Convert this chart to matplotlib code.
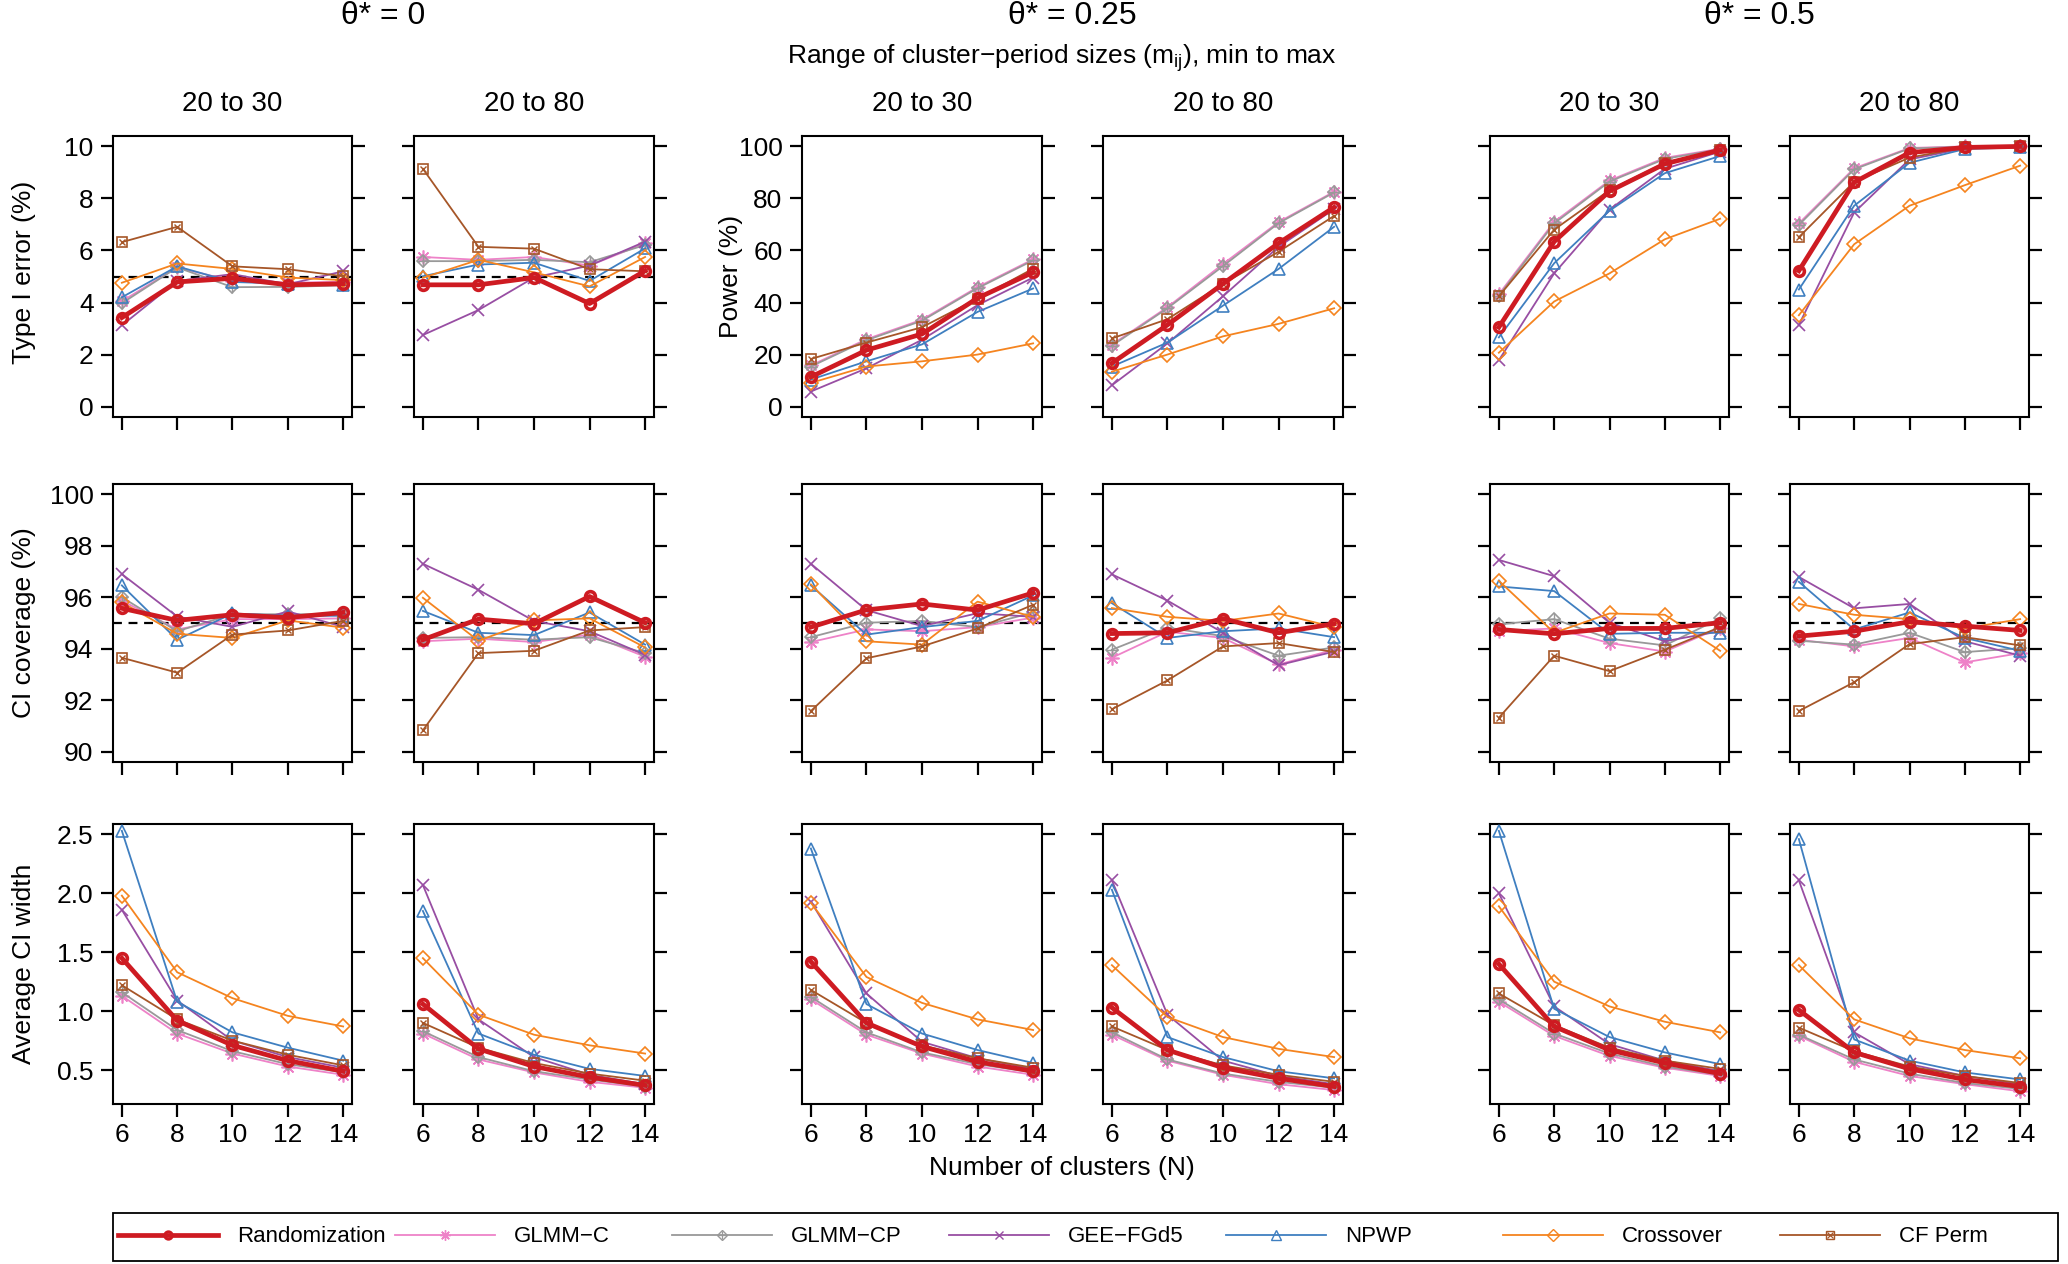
import matplotlib
matplotlib.use("Agg")
import matplotlib.pyplot as plt
from matplotlib.lines import Line2D
from matplotlib.patches import Rectangle
from matplotlib.legend_handler import HandlerTuple

plt.rcParams['font.family'] = ['Liberation Sans', 'DejaVu Sans']
plt.rcParams['mathtext.default'] = 'regular'

n_clusters = [6, 8, 10, 12, 14]
theta_titles = ["θ* = 0", "θ* = 0.25", "θ* = 0.5"]
size_ranges = ["20 to 30", "20 to 80", "20 to 30", "20 to 80", "20 to 30", "20 to 80"]
methods = ["Randomization", "GLMM−C", "GLMM−CP", "GEE−FGd5", "NPWP", "Crossover", "CF Perm"]

# Type I error (%), theta* = 0 : [20 to 30, 20 to 80]
err_rand = [[3.42, 4.79, 4.93, 4.68, 4.72], [4.68, 4.68, 4.96, 3.96, 5.22]]
err_glmmc = [[4.05, 5.35, 4.83, 4.76, 4.80], [5.75, 5.64, 5.75, 5.42, 6.28]]
err_glmmcp = [[3.97, 5.35, 4.59, 4.60, 4.66], [5.59, 5.59, 5.64, 5.55, 6.21]]
err_gee = [[3.12, 4.83, 5.09, 4.70, 5.20], [2.75, 3.71, 4.96, 5.42, 6.34]]
err_npwp = [[4.20, 5.39, 4.79, 4.72, 4.68], [5.01, 5.46, 5.53, 4.83, 6.08]]
err_cross = [[4.76, 5.50, 5.29, 4.96, 4.86], [4.95, 5.64, 5.16, 4.62, 5.75]]
err_cfperm = [[6.32, 6.91, 5.39, 5.28, 5.01], [9.14, 6.14, 6.07, 5.28, 5.20]]

# Power (%), theta* = 0.25 and 0.5 : [0.25/20-30, 0.25/20-80, 0.5/20-30, 0.5/20-80]
pow_rand = [[11.4, 21.7, 27.9, 41.7, 51.6], [16.7, 31.4, 47.2, 62.8, 76.6],
            [30.5, 63.4, 82.8, 93.3, 98.6], [52.2, 86.2, 97.6, 99.6, 100.0]]
pow_glmmc = [[15.8, 25.9, 33.4, 45.9, 56.6], [23.8, 38.2, 54.8, 70.9, 82.6],
             [43.2, 71.0, 86.9, 95.6, 99.1], [70.4, 91.6, 99.4, 100.0, 100.0]]
pow_glmmcp = [[15.4, 25.5, 33.0, 45.5, 56.2], [23.4, 37.8, 54.0, 70.5, 82.3],
              [42.6, 70.4, 86.5, 95.2, 98.9], [69.8, 91.2, 99.2, 99.9, 100.0]]
pow_gee = [[5.8, 14.7, 25.7, 39.0, 49.6], [8.2, 24.3, 42.4, 61.4, 75.9],
           [17.8, 51.2, 75.7, 91.4, 98.0], [31.4, 74.6, 95.0, 99.3, 99.9]]
pow_npwp = [[10.4, 17.4, 23.9, 36.4, 45.4], [15.4, 24.6, 38.8, 52.9, 69.1],
            [26.6, 55.1, 75.3, 89.7, 96.3], [45.0, 77.2, 93.7, 99.0, 99.6]]
pow_cross = [[9.1, 15.4, 17.4, 20.0, 24.3], [13.4, 20.0, 27.0, 31.8, 37.8],
             [20.7, 40.4, 51.2, 64.3, 72.2], [35.1, 62.4, 77.2, 85.1, 92.6]]
pow_cfperm = [[18.3, 24.6, 30.5, 41.5, 53.0], [26.2, 33.6, 47.2, 59.5, 73.3],
              [42.4, 68.0, 83.2, 93.7, 98.6], [65.1, 86.4, 95.7, 99.6, 100.0]]

# CI coverage (%), six panels left to right
cov_rand = [[95.57, 95.10, 95.32, 95.21, 95.41], [94.35, 95.15, 94.97, 96.03, 95.01],
            [94.84, 95.51, 95.74, 95.50, 96.17], [94.59, 94.62, 95.17, 94.62, 94.97],
            [94.75, 94.58, 94.79, 94.79, 95.01], [94.49, 94.68, 95.05, 94.88, 94.71]]
cov_glmmc = [[95.87, 94.75, 95.15, 95.15, 95.18], [94.29, 94.39, 94.26, 94.55, 93.69],
             [94.26, 94.75, 94.68, 94.84, 95.21], [93.65, 94.66, 94.42, 93.39, 93.96],
             [94.68, 94.79, 94.22, 93.89, 94.82], [94.35, 94.09, 94.42, 93.47, 93.83]]
cov_glmmcp = [[96.00, 94.68, 95.34, 95.34, 95.34], [94.42, 94.45, 94.35, 94.45, 93.83],
              [94.45, 95.01, 95.08, 94.84, 95.41], [93.96, 94.82, 94.49, 93.73, 94.05],
              [94.95, 95.15, 94.39, 94.13, 95.18], [94.31, 94.16, 94.62, 93.87, 94.02]]
cov_gee = [[96.90, 95.25, 94.85, 95.45, 94.85], [97.30, 96.29, 95.08, 94.68, 93.76],
           [97.30, 95.50, 94.88, 95.38, 95.24], [96.89, 95.87, 94.62, 93.36, 93.89],
           [97.45, 96.82, 95.01, 94.29, 94.68], [96.79, 95.57, 95.74, 94.29, 93.73]]
cov_npwp = [[96.46, 94.35, 95.37, 95.28, 95.28], [95.47, 94.62, 94.53, 95.41, 94.16],
            [96.46, 94.55, 94.84, 95.08, 96.07], [95.77, 94.42, 94.68, 94.79, 94.45],
            [96.42, 96.24, 94.58, 94.62, 94.62], [96.60, 94.75, 95.41, 94.42, 93.92]]
cov_cross = [[95.80, 94.58, 94.42, 95.10, 94.82], [95.98, 94.31, 95.10, 95.18, 94.05],
             [96.50, 94.29, 94.16, 95.83, 95.24], [95.58, 95.24, 95.08, 95.37, 94.84],
             [96.64, 94.62, 95.37, 95.32, 93.92], [95.74, 95.32, 95.15, 94.79, 95.15]]
cov_cfperm = [[93.65, 93.07, 94.55, 94.71, 95.08], [90.83, 93.83, 93.92, 94.71, 94.84],
              [91.58, 93.63, 94.09, 94.79, 95.71], [91.65, 92.77, 94.09, 94.22, 93.87],
              [91.32, 93.73, 93.13, 93.96, 94.84], [91.58, 92.70, 94.18, 94.45, 94.13]]

# Average CI width, six panels left to right
wid_rand = [[1.45, 0.92, 0.71, 0.58, 0.49], [1.06, 0.68, 0.53, 0.44, 0.37],
            [1.42, 0.90, 0.70, 0.57, 0.49], [1.03, 0.67, 0.52, 0.43, 0.36],
            [1.40, 0.87, 0.67, 0.56, 0.47], [1.01, 0.65, 0.51, 0.42, 0.36]]
wid_glmmc = [[1.13, 0.81, 0.64, 0.53, 0.46], [0.81, 0.59, 0.48, 0.40, 0.35],
             [1.10, 0.80, 0.64, 0.53, 0.46], [0.80, 0.58, 0.46, 0.38, 0.33],
             [1.08, 0.79, 0.62, 0.52, 0.45], [0.79, 0.57, 0.45, 0.38, 0.32]]
wid_glmmcp = [[1.16, 0.84, 0.66, 0.55, 0.48], [0.83, 0.61, 0.49, 0.42, 0.36],
              [1.12, 0.82, 0.65, 0.55, 0.48], [0.82, 0.59, 0.47, 0.40, 0.35],
              [1.10, 0.81, 0.64, 0.53, 0.46], [0.80, 0.59, 0.47, 0.39, 0.34]]
wid_gee = [[1.86, 1.09, 0.75, 0.61, 0.52], [2.07, 0.93, 0.61, 0.46, 0.38],
           [1.93, 1.15, 0.74, 0.60, 0.51], [2.11, 0.97, 0.58, 0.45, 0.38],
           [2.00, 1.04, 0.72, 0.58, 0.49], [2.11, 0.82, 0.55, 0.45, 0.38]]
wid_npwp = [[2.53, 1.08, 0.82, 0.69, 0.58], [1.85, 0.81, 0.63, 0.51, 0.45],
            [2.38, 1.06, 0.81, 0.67, 0.56], [2.03, 0.78, 0.61, 0.49, 0.43],
            [2.53, 1.02, 0.78, 0.65, 0.55], [2.46, 0.76, 0.58, 0.48, 0.42]]
wid_cross = [[1.98, 1.33, 1.11, 0.96, 0.87], [1.45, 0.97, 0.80, 0.71, 0.64],
             [1.92, 1.29, 1.07, 0.93, 0.84], [1.39, 0.95, 0.78, 0.68, 0.61],
             [1.89, 1.25, 1.04, 0.91, 0.82], [1.39, 0.93, 0.77, 0.67, 0.60]]
wid_cfperm = [[1.22, 0.93, 0.75, 0.63, 0.54], [0.90, 0.69, 0.56, 0.47, 0.41],
              [1.18, 0.90, 0.71, 0.60, 0.52], [0.87, 0.67, 0.54, 0.46, 0.40],
              [1.15, 0.88, 0.69, 0.58, 0.51], [0.86, 0.66, 0.53, 0.45, 0.39]]

err_all = [err_rand, err_glmmc, err_glmmcp, err_gee, err_npwp, err_cross, err_cfperm]
pow_all = [pow_rand, pow_glmmc, pow_glmmcp, pow_gee, pow_npwp, pow_cross, pow_cfperm]
cov_all = [cov_rand, cov_glmmc, cov_glmmcp, cov_gee, cov_npwp, cov_cross, cov_cfperm]
wid_all = [wid_rand, wid_glmmc, wid_glmmcp, wid_gee, wid_npwp, wid_cross, wid_cfperm]

colors = ["#CE1B22", "#EE82C8", "#999999", "#984EA3", "#3F7FC0", "#F5841F", "#A65628"]
# (marker, size, overlay marker, overlay size)
marks = [("o", 7, None, 0), ((8, 2, 0), 10, None, 0), ("D", 6.5, "+", 8),
         ("x", 8, None, 0), ("^", 9, None, 0), ("D", 7.5, None, 0), ("s", 7, "x", 5)]

W, H = 2068, 1264
fig = plt.figure(figsize=(W / 100, H / 100), dpi=100)

cols = [(113, 352), (414, 654), (802, 1042), (1103, 1343), (1490, 1729), (1790, 2029)]
rows = [(136, 417), (484, 762), (824, 1104)]


def add_panel(c, r):
    x0, x1 = cols[c]
    y0, y1 = rows[r]
    return fig.add_axes([x0 / W, 1 - y1 / H, (x1 - x0) / W, (y1 - y0) / H])


def draw_series(ax, series, k):
    for i in list(range(1, 7)) + [0]:
        vals = series[i][k]
        m, ms, m2, ms2 = marks[i]
        lw = 3.4 if i == 0 else 1.3
        mew = 2.6 if i == 0 else 1.2
        ax.plot(n_clusters, vals, color=colors[i], lw=lw, marker=m, ms=ms,
                mfc="none", mew=mew, zorder=5 if i == 0 else 3)
        if m2:
            ax.plot(n_clusters, vals, ls="none", color=colors[i], marker=m2,
                    ms=ms2, mew=1.0, zorder=3)


tick_fs = 19
for r in range(3):
    for c in range(6):
        ax = add_panel(c, r)
        if r == 0 and c < 2:
            draw_series(ax, err_all, c)
            ax.set_ylim(-0.4, 10.4)
            ax.set_yticks([0, 2, 4, 6, 8, 10])
            ax.axhline(5, color="black", ls=(0, (4, 3)), lw=1.6, zorder=2)
        elif r == 0:
            draw_series(ax, pow_all, c - 2)
            ax.set_ylim(-4, 104)
            ax.set_yticks([0, 20, 40, 60, 80, 100])
        elif r == 1:
            draw_series(ax, cov_all, c)
            ax.set_ylim(89.6, 100.4)
            ax.set_yticks([90, 92, 94, 96, 98, 100])
            ax.axhline(95, color="black", ls=(0, (4, 3)), lw=1.6, zorder=2)
        else:
            draw_series(ax, wid_all, c)
            ax.set_ylim(0.212, 2.588)
            ax.set_yticks([0.5, 1.0, 1.5, 2.0, 2.5])
            ax.set_yticklabels(["0.5", "1.0", "1.5", "2.0", "2.5"])
        ax.set_xlim(5.68, 14.32)
        ax.set_xticks(n_clusters)
        show_y = (c == 0) or (r == 0 and c == 2)
        ax.tick_params(axis="y", left=True, right=True, direction="out",
                       length=9, width=1.6, labelleft=show_y, labelsize=tick_fs, pad=5)
        ax.tick_params(axis="x", bottom=True, top=False, direction="out",
                       length=9, width=1.6, labelbottom=(r == 2), labelsize=tick_fs, pad=5)
        for s in ax.spines.values():
            s.set_linewidth(1.5)
        if r == 0:
            ax.set_title(size_ranges[c], fontsize=20, pad=18)

label_fs = 19
fig.text(12 / W, 1 - 272 / H, "Type I error (%)", rotation=90, va="center", ha="left", fontsize=label_fs)
fig.text(719 / W, 1 - 276 / H, "Power (%)", rotation=90, va="center", ha="left", fontsize=label_fs)
fig.text(12 / W, 1 - 623 / H, "CI coverage (%)", rotation=90, va="center", ha="left", fontsize=label_fs)
fig.text(12 / W, 1 - 964 / H, "Average CI width", rotation=90, va="center", ha="left", fontsize=label_fs)
fig.text(1062 / W, 1 - 1168 / H, "Number of clusters (N)", ha="center", va="center", fontsize=label_fs)

for j, t in enumerate(theta_titles):
    xc = (cols[2 * j][0] + cols[2 * j + 1][1]) / 2
    fig.text(xc / W, 1 - 16 / H, t, ha="center", va="center", fontsize=23)
fig.text(1062 / W, 1 - 58 / H, "Range of cluster−period sizes (m$_{ij}$), min to max",
         ha="center", va="center", fontsize=19)

# legend: frame plus seven evenly spaced entries
fig.add_artist(Rectangle((113 / W, 3 / H), (2058 - 113) / W, 48 / H,
                         transform=fig.transFigure, fill=False, lw=1.3, ec="black"))
for i in range(7):
    m, ms, m2, ms2 = marks[i]
    h = Line2D([], [], color=colors[i], lw=3.4 if i == 0 else 1.3, marker=m,
               ms=ms * 0.75, mfc="none", mew=2.2 if i == 0 else 1.0)
    if m2:
        h2 = Line2D([], [], ls="none", color=colors[i], marker=m2, ms=ms2 * 0.75, mew=0.9)
        h = (h, h2)
    fig.legend([h], [methods[i]], loc="center left",
               bbox_to_anchor=((118 + 277 * i) / W, 1 - 1237 / H),
               fontsize=16, frameon=False, handlelength=4.5, handletextpad=0.85,
               borderpad=0, borderaxespad=0,
               handler_map={tuple: HandlerTuple(ndivide=1)})

fig.savefig("out.png", dpi=100)
